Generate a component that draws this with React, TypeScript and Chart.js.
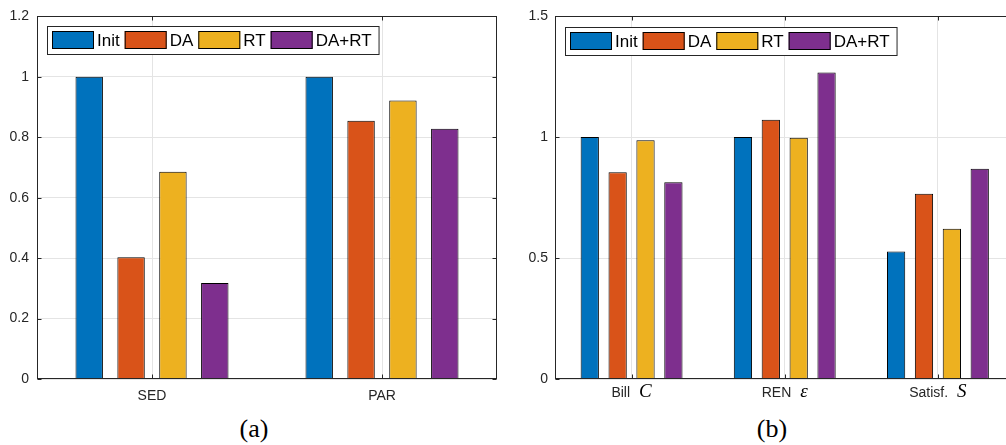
import React, { useEffect, useRef } from "react";
import { Chart, registerables } from "chart.js";

Chart.register(...registerables);

// ---------- data ----------
const seriesNames = ["Init", "DA", "RT", "DA+RT"];
const seriesColors = ["#0072BD", "#D95319", "#EDB120", "#7E2F8E"];

const leftCategories = ["SED", "PAR"];
const leftInit = [1.0, 1.0];
const leftDA = [0.403, 0.855];
const leftRT = [0.686, 0.922];
const leftDART = [0.318, 0.828];
const leftYTicks = [0, 0.2, 0.4, 0.6, 0.8, 1, 1.2];

const rightCategories = ["Bill", "REN", "Satisf."];
const rightSymbols = ["C", "ε", "S"];
const rightInit = [1.0, 1.0, 0.527];
const rightDA = [0.854, 1.071, 0.766];
const rightRT = [0.987, 0.997, 0.621];
const rightDART = [0.813, 1.267, 0.869];
const rightYTicks = [0, 0.5, 1, 1.5];

const captions = ["(a)", "(b)"];

// ---------- styles ----------
const SANS = "'Liberation Sans', Arial, Helvetica, sans-serif";
const SERIF = "'Liberation Serif', 'DejaVu Serif', serif";
const AXIS_COLOR = "#262626";
const GRID_COLOR = "#e4e4e4";

function framePlugin() {
  return {
    id: "matlabFrame",
    afterDatasetsDraw(chart: any) {
      const ctx = chart.ctx;
      const a = chart.chartArea;
      const xs = chart.scales.x;
      const ys = chart.scales.y;
      ctx.save();
      ctx.strokeStyle = AXIS_COLOR;
      ctx.lineWidth = 1;
      const L = Math.round(a.left) + 0.5;
      const R = Math.round(a.right) - 0.5;
      const T = Math.round(a.top) + 0.5;
      const B = Math.round(a.bottom) - 0.5;
      ctx.strokeRect(L, T, R - L, B - T);
      const tl = 4;
      ctx.beginPath();
      ys.ticks.forEach((t: any) => {
        const y = Math.round(ys.getPixelForValue(t.value)) + 0.5;
        ctx.moveTo(L, y);
        ctx.lineTo(L + tl, y);
        ctx.moveTo(R, y);
        ctx.lineTo(R - tl, y);
      });
      xs.ticks.forEach((_t: any, i: number) => {
        const x = Math.round(xs.getPixelForValue(i)) + 0.5;
        ctx.moveTo(x, B);
        ctx.lineTo(x, B - tl);
        ctx.moveTo(x, T);
        ctx.lineTo(x, T + tl);
      });
      ctx.stroke();
      ctx.restore();
    },
  };
}

function legendPlugin(offX: number, offY: number) {
  return {
    id: "boxLegend",
    afterDraw(chart: any) {
      const ctx = chart.ctx;
      const a = chart.chartArea;
      ctx.save();
      ctx.font = `17px ${SANS}`;
      const sw = 42, sh = 18, padL = 5, gapT = 3, gapI = 5, padR = 7, h = 28;
      const items = chart.data.datasets.map((d: any) => ({
        label: d.label,
        color: d.backgroundColor,
        w: ctx.measureText(d.label).width,
      }));
      const total =
        padL +
        items.reduce((s: number, it: any) => s + sw + gapT + it.w, 0) +
        gapI * (items.length - 1) +
        padR;
      const x0 = Math.round(a.left + offX);
      const y0 = Math.round(a.top + offY);
      ctx.fillStyle = "#fff";
      ctx.fillRect(x0, y0, total, h);
      ctx.strokeStyle = AXIS_COLOR;
      ctx.lineWidth = 1;
      ctx.strokeRect(x0 + 0.5, y0 + 0.5, total, h);
      let x = x0 + padL;
      items.forEach((it: any) => {
        const sy = y0 + (h - sh) / 2;
        ctx.fillStyle = it.color;
        ctx.fillRect(x, sy, sw, sh);
        ctx.strokeStyle = "#000";
        ctx.strokeRect(x + 0.5, sy + 0.5, sw - 1, sh - 1);
        x += sw + gapT;
        ctx.fillStyle = "#000";
        ctx.textBaseline = "middle";
        ctx.textAlign = "left";
        ctx.fillText(it.label, x, y0 + h / 2 + 1);
        x += it.w + gapI;
      });
      ctx.restore();
    },
  };
}

function xLabelPlugin(labels: string[], symbols: string[] | null, baseOff: number) {
  return {
    id: "xLabels",
    afterDraw(chart: any) {
      const ctx = chart.ctx;
      const a = chart.chartArea;
      const xs = chart.scales.x;
      ctx.save();
      ctx.textBaseline = "alphabetic";
      ctx.textAlign = "left";
      const y = a.bottom + baseOff;
      labels.forEach((lab, i) => {
        const cx = xs.getPixelForValue(i);
        const fPlain = `14px ${SANS}`;
        const fMath = `italic 19px ${SERIF}`;
        ctx.font = fPlain;
        const w1 = ctx.measureText(lab).width;
        let w2 = 0;
        const gap = symbols ? 9 : 0;
        if (symbols) {
          ctx.font = fMath;
          w2 = ctx.measureText(symbols[i]).width;
        }
        const start = cx - (w1 + gap + w2) / 2;
        ctx.fillStyle = AXIS_COLOR;
        ctx.font = fPlain;
        ctx.fillText(lab, start, y);
        if (symbols) {
          ctx.font = fMath;
          ctx.fillStyle = "#000";
          ctx.fillText(symbols[i], start + w1 + gap, y);
        }
      });
      ctx.restore();
    },
  };
}

function makeConfig(
  categories: string[],
  values: number[][],
  yTicks: number[],
  yMax: number,
  yAxisWidth: number,
  padding: any,
  tickPad: number,
  plugins: any[]
) {
  return {
    type: "bar" as const,
    data: {
      labels: categories,
      datasets: seriesNames.map((name, i) => ({
        label: name,
        data: values[i],
        backgroundColor: seriesColors[i],
        borderColor: "#000",
        borderWidth: 1,
        categoryPercentage: 0.728,
        barPercentage: 0.655,
      })),
    },
    options: {
      animation: false,
      responsive: true,
      maintainAspectRatio: false,
      devicePixelRatio: 1,
      layout: { padding },
      plugins: {
        legend: { display: false },
        tooltip: { enabled: false },
        title: { display: false },
      },
      scales: {
        x: {
          offset: true,
          grid: { display: true, offset: false, color: GRID_COLOR, drawTicks: false },
          border: { display: false },
          ticks: { display: false },
          afterFit: (s: any) => {
            s.height = 30;
          },
        },
        y: {
          min: 0,
          max: yMax,
          grid: { color: GRID_COLOR, drawTicks: false },
          border: { display: false },
          ticks: {
            padding: tickPad,
            color: AXIS_COLOR,
            font: { family: SANS, size: 14 },
            callback: (v: any) => String(Math.round(v * 100) / 100),
          },
          afterBuildTicks: (s: any) => {
            s.ticks = yTicks.map((v) => ({ value: v }));
          },
          afterFit: (s: any) => {
            s.width = yAxisWidth;
          },
        },
      },
    },
    plugins,
  };
}

export default function App() {
  const leftRef = useRef<HTMLCanvasElement | null>(null);
  const rightRef = useRef<HTMLCanvasElement | null>(null);

  useEffect(() => {
    const left = new Chart(
      leftRef.current as HTMLCanvasElement,
      makeConfig(
        leftCategories,
        [leftInit, leftDA, leftRT, leftDART],
        leftYTicks,
        1.2,
        37,
        { left: 0, top: 15, right: 8, bottom: 0 },
        8,
        [framePlugin(), legendPlugin(10, 10), xLabelPlugin(leftCategories, null, 21)]
      ) as any
    );
    const right = new Chart(
      rightRef.current as HTMLCanvasElement,
      makeConfig(
        rightCategories,
        [rightInit, rightDA, rightRT, rightDART],
        rightYTicks,
        1.5,
        55,
        { left: 0, top: 16, right: 5.5, bottom: 0 },
        7,
        [framePlugin(), legendPlugin(10, 11), xLabelPlugin(rightCategories, rightSymbols, 18)]
      ) as any
    );
    return () => {
      left.destroy();
      right.destroy();
    };
  }, []);

  const captionStyle: React.CSSProperties = {
    position: "absolute",
    width: 100,
    top: 413,
    lineHeight: "32px",
    textAlign: "center",
    fontFamily: SERIF,
    fontSize: 26,
    color: "#000",
  };

  return (
    <div
      style={{
        position: "fixed",
        left: 0,
        top: 0,
        width: 1006,
        height: 445,
        overflow: "hidden",
        background: "#fff",
      }}
    >
      <div style={{ position: "absolute", left: 0, top: 0, width: 505, height: 409 }}>
        <canvas ref={leftRef} />
      </div>
      <div style={{ position: "absolute", left: 500, top: 0, width: 520, height: 409 }}>
        <canvas ref={rightRef} />
      </div>
      <div style={{ ...captionStyle, left: 204 }}>{captions[0]}</div>
      <div style={{ ...captionStyle, left: 722 }}>{captions[1]}</div>
    </div>
  );
}
